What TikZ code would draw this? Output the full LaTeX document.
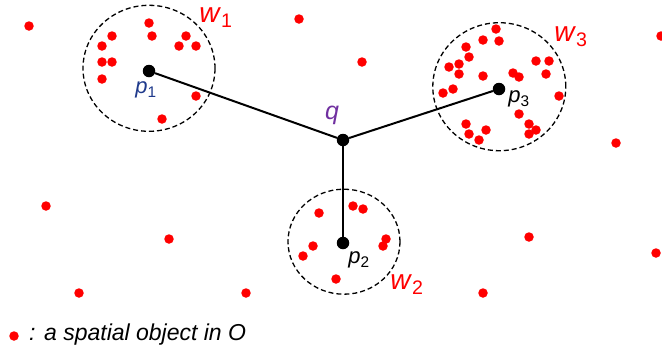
\documentclass[tikz,border=0pt]{standalone}
\usepackage{fontspec}
\setmainfont{Liberation Sans}
\usetikzlibrary{shapes.geometric}
\definecolor{navy}{HTML}{1F3A8C}
\definecolor{qpurple}{HTML}{7030A0}
\newcommand{\labsub}[2]{\textit{#1}\textsubscript{#2}}
\begin{document}
\begin{tikzpicture}[x=1pt,y=-1pt,
  obj/.style={circle,fill=red,inner sep=0pt,minimum size=9.5pt},
  pnt/.style={circle,fill=black,inner sep=0pt,minimum size=12.5pt},
  conn/.style={line width=2pt},
  win/.style={draw,ellipse,inner sep=0pt,line width=1.3pt,dash pattern=on 5pt off 3pt},
  wlab/.style={text=red,inner sep=0pt,font=\fontsize{28}{30}\selectfont},
  plab/.style={inner sep=0pt,font=\fontsize{22}{24}\selectfont},
  leg/.style={inner sep=0pt,anchor=west,font=\fontsize{23}{25}\selectfont\itshape}]
\useasboundingbox (0,0) rectangle (662,349);
% windows
\node[win,minimum width=132pt,minimum height=126pt] (w1) at (149,68.3) {};
\node[win,minimum width=133pt,minimum height=128pt] (w3) at (499.3,86.7) {};
\node[win,minimum width=112pt,minimum height=105pt] (w2) at (344,241.7) {};
% points
\node[pnt] (p1) at (149,71) {};
\node[pnt] (q) at (343,140) {};
\node[pnt] (p2) at (343,243) {};
\node[pnt] (p3) at (499,89) {};
\draw[conn] (q) -- (p1);
\draw[conn] (q) -- (p2);
\draw[conn] (q) -- (p3);
% objects
\foreach \x/\y [count=\i] in {149/23,112/36,152/36,186/36,102/46,179/46,196/46,102/62,112/62,102/79,196/96,162/119,
  496/29,483/40,499/41,466/47,469/57,449/67,459/64,459/74,483/76,536/61,549/61,546/74,513/73,519/77,443/93,453/89,559/96,519/114,466/124,469/134,486/130,479/140,529/124,529/134,536/130,
  319/213,353/206,363/209,313/246,303/256,386/239,383/246,336/279,
  29/26,299/19,362/62,661/36,616/143,46/206,169/239,79/293,246/293,529/237,656/253,483/293}
  \node[obj] (o\i) at (\x,\y) {};
% labels
\node[wlab] (lw1) at (216,18) {\labsub{w}{1}};
\node[wlab] (lw2) at (407,285) {\labsub{w}{2}};
\node[wlab] (lw3) at (571,37) {\labsub{w}{3}};
\node[plab,text=navy] (lp1) at (146,90) {\labsub{p}{1}};
\node[plab,text=qpurple,font=\fontsize{25}{27}\selectfont\itshape] (lq) at (332,115) {q};
\node[plab] (lp2) at (359,260) {\labsub{p}{2}};
\node[plab] (lp3) at (519,99) {\labsub{p}{3}};
% legend
\node[obj] (legdot) at (14,336) {};
\node[leg] (legtext) at (29,335) {: a spatial object in O};
\end{tikzpicture}
\end{document}
